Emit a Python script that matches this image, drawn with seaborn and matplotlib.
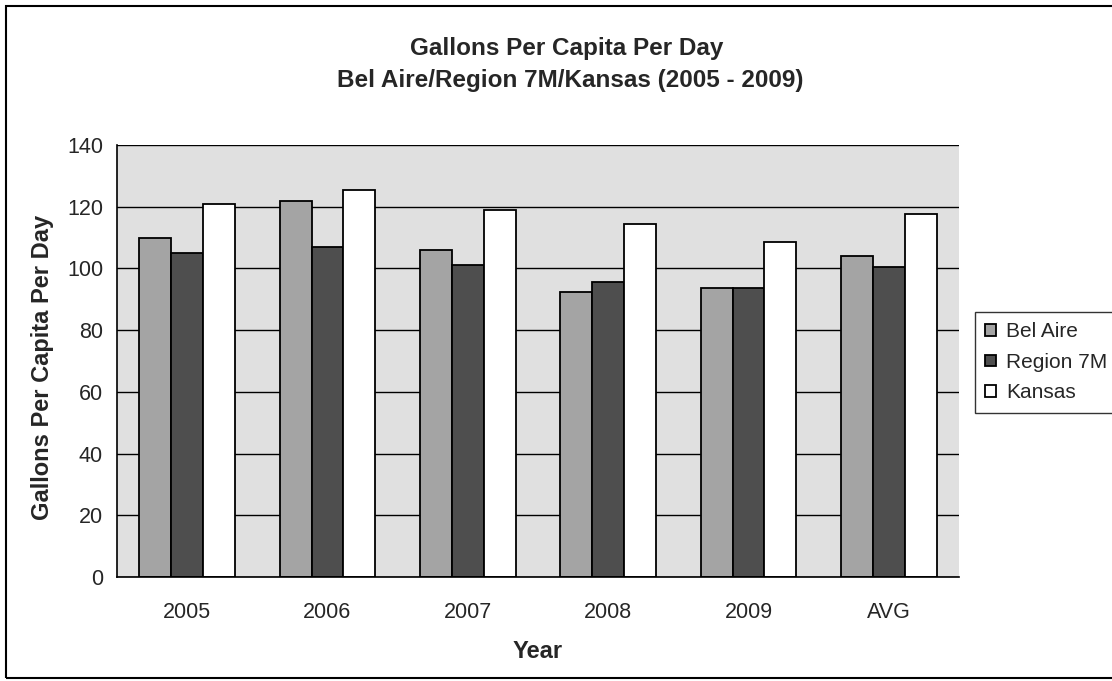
import numpy as np
import pandas as pd
import matplotlib.pyplot as plt
import seaborn as sns
from matplotlib.patches import Rectangle

years = ["2005", "2006", "2007", "2008", "2009", "AVG"]
bel_aire = [110, 122, 106, 92.5, 93.5, 104]
region_7m = [105, 107, 101, 95.5, 93.5, 100.5]
kansas = [121, 125.5, 119, 114.5, 108.5, 117.5]
series = ["Bel Aire", "Region 7M", "Kansas"]
colors = ["#a4a4a4", "#4e4e4e", "#ffffff"]

df = pd.DataFrame({
    "Year": years * 3,
    "Value": bel_aire + region_7m + kansas,
    "Series": [s for s in series for _ in years],
})

sns.set_style("white")
plt.rcParams["font.family"] = ["Liberation Sans", "DejaVu Sans"]

W, H = 1112, 681
fig = plt.figure(figsize=(W / 100, H / 100), dpi=100)
ax = fig.add_axes([117 / W, 1 - 577 / H, (959 - 117) / W, (577 - 145) / H])

sns.barplot(data=df, x="Year", y="Value", hue="Series", palette=colors,
            edgecolor="black", linewidth=1.3, width=0.68, saturation=1,
            ax=ax, legend=True)

ax.set_facecolor("#e0e0e0")
ax.set_ylim(0, 140)
ax.set_xlim(-0.5, len(years) - 0.5)
ax.set_yticks(np.arange(0, 141, 20))
ax.yaxis.grid(True, color="black", linewidth=1)
ax.set_axisbelow(True)
for s in ["top", "right"]:
    ax.spines[s].set_visible(False)
for s in ["left", "bottom"]:
    ax.spines[s].set_color("black")
    ax.spines[s].set_linewidth(1.2)
ax.tick_params(axis="y", direction="out", length=6, color="black", labelsize=15.5, pad=4)
ax.tick_params(axis="x", which="major", length=0, labelsize=15.5, pad=18)
ax.set_xticks(np.arange(-0.5, len(years)), minor=True)
ax.tick_params(axis="x", which="minor", direction="out", length=6, color="black")

ax.set_xlabel("Year", fontsize=17, fontweight="bold", labelpad=12)
ax.set_ylabel("Gallons Per Capita Per Day", fontsize=17, fontweight="bold")
ax.yaxis.set_label_coords(54 / W, 0.5 * (1 - 145 / H + 1 - 577 / H) - 0.01, transform=fig.transFigure)

fig.text(567 / W, 1 - 48 / H, "Gallons Per Capita Per Day",
         ha="center", va="center", fontsize=17.5, fontweight="bold")
fig.text(570 / W, 1 - 80 / H, "Bel Aire/Region 7M/Kansas (2005 - 2009)",
         ha="center", va="center", fontsize=17.5, fontweight="bold")

handles, labels = ax.get_legend_handles_labels()
ax.legend(handles, labels, loc="upper left", bbox_to_anchor=(975 / W, 1 - 312 / H),
          bbox_transform=fig.transFigure, frameon=True, fancybox=False, edgecolor="black",
          fontsize=15, handlelength=0.5, handleheight=0.5, handletextpad=0.5,
          labelspacing=0.55, borderpad=0.5, borderaxespad=0)

fig.patches.append(Rectangle((6 / W, 3 / H), 1.2, 1 - 9 / H, transform=fig.transFigure,
                             fill=False, edgecolor="black", linewidth=1.5))

fig.savefig("out.png", dpi=100)
